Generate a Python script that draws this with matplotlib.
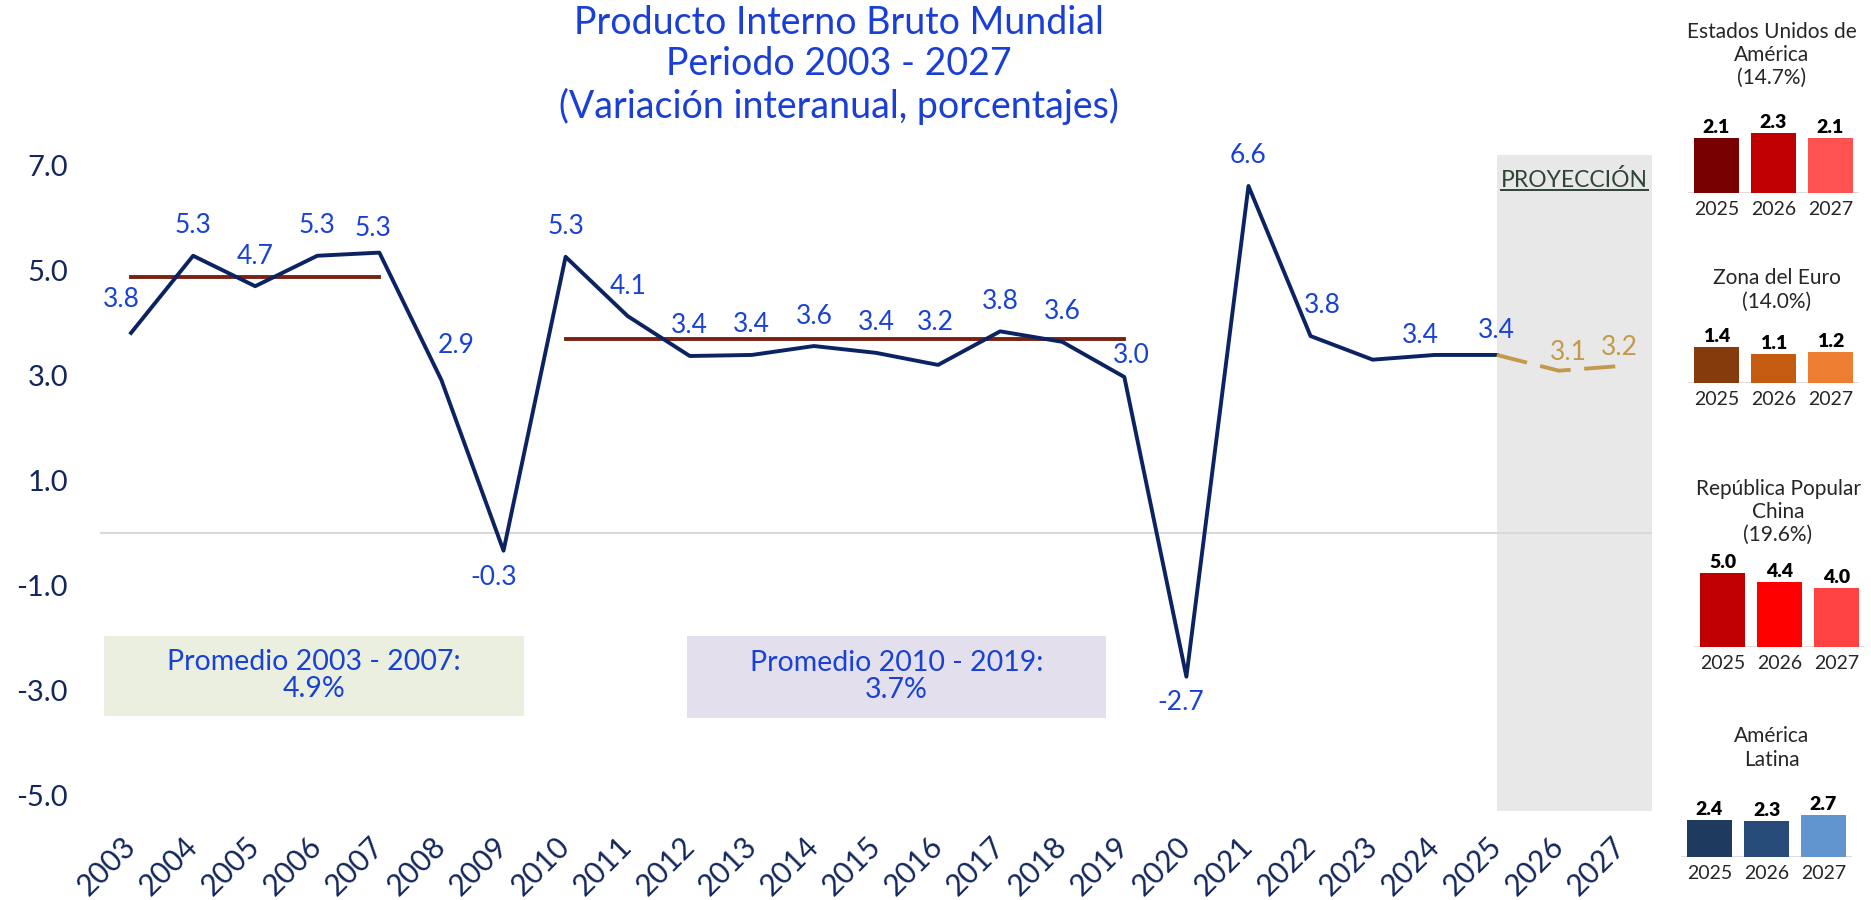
import numpy as np
import matplotlib.pyplot as plt
from matplotlib.lines import Line2D
from matplotlib.patches import Rectangle

plt.rcParams['font.family'] = ['Lato', 'DejaVu Sans']

# serie principal (variacion interanual del PIB mundial, %)
years = list(range(2003, 2026))
pib = [3.81, 5.28, 4.70, 5.28, 5.34, 2.91, -0.34, 5.26, 4.13, 3.37, 3.39, 3.56,
       3.43, 3.20, 3.84, 3.64, 2.97, -2.74, 6.61, 3.75, 3.30, 3.39, 3.39]
proj_years = [2025, 2026, 2027]
proj = [3.39, 3.09, 3.18]
prom_0307 = 4.88
prom_1019 = 3.70
no_label = [2023]

# paneles de la derecha
panel_years = ["2025", "2026", "2027"]
eeuu = [2.1, 2.3, 2.1]
euro = [1.4, 1.1, 1.2]
china = [5.0, 4.4, 4.0]
latam = [2.4, 2.3, 2.7]
panel_titles = ["Estados Unidos de\nAmérica\n(14.7%)", "Zona del Euro\n(14.0%)",
                "República Popular\nChina\n(19.6%)", "América\nLatina"]

NAVY = '#0B2263'
BLUE = '#1842D6'
GOLD = '#C39A4B'
BROWN = '#7A2212'
TICK = '#14275C'

W, H = 1871, 900


def px(x0, y_top, w, h):
    return [x0 / W, 1 - (y_top + h) / H, w / W, h / H]


fig = plt.figure(figsize=(W / 100, H / 100), dpi=100)
ax = fig.add_axes(px(100, 155, 1552, 656))
ax.set_xlim(2002.5, 2027.5)
ax.set_ylim(-5.3, 7.2)

ax.axvspan(2025, 2027.5, color='#E7E8E7', zorder=0, lw=0)
ax.axhline(0, color='#D9D9D9', lw=1.5, zorder=1)

ax.add_patch(Rectangle((2002.56, -3.49), 6.77, 1.53, fc='#EBEFDF', ec='none', zorder=1))
ax.add_patch(Rectangle((2011.96, -3.52), 6.74, 1.56, fc='#E4DFEC', ec='none', zorder=1))
ax.text(2002.56 + 6.77 / 2, -2.72, "Promedio 2003 - 2007:\n%.1f%%" % prom_0307,
        ha='center', va='center', fontsize=20.5, color=BLUE, linespacing=1.05, zorder=2)
ax.text(2011.96 + 6.74 / 2, -2.74, "Promedio 2010 - 2019:\n%.1f%%" % prom_1019,
        ha='center', va='center', fontsize=20.5, color=BLUE, linespacing=1.05, zorder=2)

ax.plot([2003, 2007], [prom_0307] * 2, color=BROWN, lw=2.8, zorder=3)
ax.plot([2010, 2019], [prom_1019] * 2, color=BROWN, lw=2.8, zorder=3)
ax.plot(years, pib, color=NAVY, lw=2.8, zorder=4)
ax.plot(proj_years, proj, color=GOLD, lw=2.8, dashes=(8, 3.5), zorder=4)

# desplazamiento de etiquetas en px (x, y hacia arriba)
offsets = {2003: (-10, 33), 2007: (-6, 24), 2008: (15, 35), 2009: (-10, -27),
           2016: (-3, 42), 2019: (7, 21), 2020: (-6, -26), 2022: (12, 31),
           2024: (-14, 19), 2025: (0, 24)}
for yr, v in zip(years, pib):
    if yr in no_label:
        continue
    dx, dy = offsets.get(yr, (0, 30))
    ax.annotate("%.1f" % v, (yr, v), xytext=(dx * 0.72, dy * 0.72),
                textcoords='offset points', ha='center', va='center',
                fontsize=19, color=BLUE, zorder=5)
proj_offsets = {2026: (9, 18), 2027: (-2, 18)}
for yr, v in zip(proj_years[1:], proj[1:]):
    dx, dy = proj_offsets[yr]
    ax.annotate("%.1f" % v, (yr, v), xytext=(dx * 0.72, dy * 0.72),
                textcoords='offset points', ha='center', va='center',
                fontsize=19, color=GOLD, zorder=5)

t_proj = ax.text(2026.25, 6.72, "PROYECCIÓN", ha='center', va='center',
                 fontsize=16.5, color='#2E4436')

yt = [-5, -3, -1, 1, 3, 5, 7]
ax.set_yticks(yt)
ax.set_yticklabels(["%.1f" % v for v in yt])
all_years = list(range(2003, 2028))
ax.set_xticks(all_years)
ax.set_xticklabels([str(y) for y in all_years], rotation=45, ha='right',
                   va='center', rotation_mode='anchor')
ax.tick_params(axis='y', length=0, pad=23, labelsize=21, labelcolor=TICK)
ax.tick_params(axis='x', length=0, pad=22, labelsize=21.5, labelcolor=TICK)
for s in ax.spines.values():
    s.set_visible(False)

fig.text(839 / W, 1 - 65 / H,
         "Producto Interno Bruto Mundial\nPeriodo 2003 - 2027\n(Variación interanual, porcentajes)",
         ha='center', va='center', fontsize=27, color='#1A3FD6', linespacing=1.2)

# paneles por region
panels = [
    (eeuu, ['#780000', '#C00000', '#FF5353'], 1688, 193, 26, 3, (1772, 55)),
    (euro, ['#843C0C', '#C55A11', '#ED7D31'], 1688, 383, 26, 3, (1777, 290)),
    (china, ['#C00000', '#FF0000', '#FF4242'], 1694, 647, 14.8, 6, (1778, 512)),
    (latam, ['#1F3A5F', '#264B78', '#6095CF'], 1681, 857, 15.5, 4, (1772, 748)),
]
for (vals, cols, x0, base, ppu, ymax, tpos), title in zip(panels, panel_titles):
    h = ppu * ymax
    pax = fig.add_axes(px(x0, base - h, 171, h))
    pax.set_xlim(-0.5, 2.5)
    pax.set_ylim(0, ymax)
    pax.axhline(0, color='#D9D9D9', lw=2, zorder=1)
    xs = np.arange(len(vals))
    pax.bar(xs, vals, width=0.8, color=cols, zorder=2)
    for x, v in zip(xs, vals):
        pax.annotate("%.1f" % v, (x, v), xytext=(0, 1.5), textcoords='offset points',
                     ha='center', va='bottom', fontsize=14, fontweight='heavy',
                     color='black', annotation_clip=False)
    pax.set_xticks(xs)
    pax.set_xticklabels(panel_years)
    pax.set_yticks([])
    pax.tick_params(axis='x', length=0, pad=6, labelsize=14, labelcolor='#262626')
    for s in pax.spines.values():
        s.set_visible(False)
    pax.patch.set_alpha(0)
    fig.text(tpos[0] / W, 1 - tpos[1] / H, title, ha='center', va='center',
             fontsize=15, color='#262626', linespacing=1.2)

# subrayado de PROYECCIÓN
fig.canvas.draw()
bb = t_proj.get_window_extent()
inv = fig.transFigure.inverted()
(ux0, uy0), (ux1, _) = inv.transform([(bb.x0, bb.y0 + 1), (bb.x1, bb.y1)])
fig.add_artist(Line2D([ux0, ux1], [uy0, uy0], color='#2E4436', lw=1.4,
                      transform=fig.transFigure))

fig.savefig("out.png", dpi=100)
